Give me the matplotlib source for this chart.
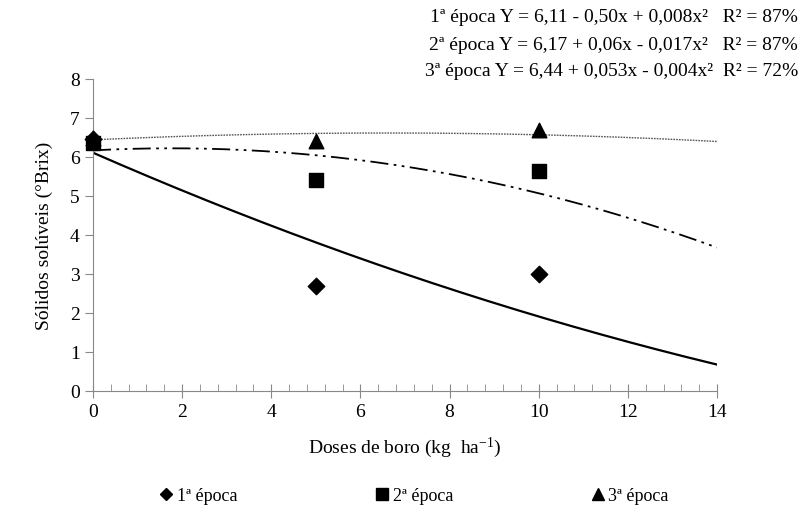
import numpy as np
import matplotlib.pyplot as plt
from matplotlib.ticker import MultipleLocator
from matplotlib.lines import Line2D

plt.rcParams['font.family'] = ['Liberation Serif', 'DejaVu Serif']
plt.rcParams['mathtext.fontset'] = 'custom'
plt.rcParams['mathtext.rm'] = 'Liberation Serif'
plt.rcParams['mathtext.it'] = 'Liberation Serif:italic'
plt.rcParams['mathtext.default'] = 'rm'

doses = [0, 5, 10]
epoca1 = [6.45, 2.7, 3.0]
epoca2 = [6.35, 5.4, 5.65]
epoca3 = [6.5, 6.4, 6.7]

# regression coefficients (a, b, c) for Y = a + b*x + c*x^2
coef1 = [6.11, -0.50, 0.008]
coef2 = [6.17, 0.06, -0.017]
coef3 = [6.44, 0.053, -0.004]

equations = [
    '1ª época Y = 6,11 - 0,50x + 0,008x²   R² = 87%',
    '2ª época Y = 6,17 + 0,06x - 0,017x²   R² = 87%',
    '3ª época Y = 6,44 + 0,053x - 0,004x²  R² = 72%',
]

fig = plt.figure(figsize=(8.02, 5.10), dpi=100)
ax = fig.add_axes([93 / 802, 118 / 510, 624 / 802, 312 / 510])

xs = np.linspace(0, 14, 200)
for coef, style, lw, col in [(coef1, '-', 1.6, 'black'),
                             (coef2, (0, (10, 3, 1.5, 3, 1.5, 3)), 1.3, 'black'),
                             (coef3, (0, (1.2, 0.8)), 1.0, '#555555')]:
    a, b, c = coef
    ax.plot(xs, a + b * xs + c * xs ** 2, linestyle=style, lw=lw, color=col)

ax.scatter(doses, epoca1, marker='D', s=70, color='black', zorder=3, clip_on=False)
ax.scatter(doses, epoca2, marker='s', s=110, color='black', zorder=3, clip_on=False)
ax.scatter(doses, epoca3, marker='^', s=110, color='black', zorder=3, clip_on=False)

ax.set_xlim(0, 14)
ax.set_ylim(0, 8)
ax.xaxis.set_major_locator(MultipleLocator(2))
ax.xaxis.set_minor_locator(MultipleLocator(0.4))
ax.yaxis.set_major_locator(MultipleLocator(1))
for s in ['top', 'right']:
    ax.spines[s].set_visible(False)
for s in ['left', 'bottom']:
    ax.spines[s].set_color('#888888')
ax.tick_params(axis='x', which='major', direction='inout', length=10, color='#888888', labelsize=14, pad=4)
ax.tick_params(axis='x', which='minor', direction='in', length=5, color='#888888')
ax.tick_params(axis='y', direction='out', length=6, color='#888888', labelsize=14)

ax.set_xlabel('Doses de boro (kg  ha$^{-1}$)', fontsize=14, labelpad=10)
ax.set_ylabel('Sólidos solúveis (°Brix)', fontsize=14, labelpad=12)

for i, eq in enumerate(equations):
    fig.text(0.995, 1 - (18 + 27 * i) / 510, eq, ha='right', va='center', fontsize=14)

handles = [Line2D([], [], marker='D', color='black', ls='none', markersize=6),
           Line2D([], [], marker='s', color='black', ls='none', markersize=8),
           Line2D([], [], marker='^', color='black', ls='none', markersize=8)]
fig.legend(handles, ['1ª época', '2ª época', '3ª época'], loc='center',
           bbox_to_anchor=(413 / 802, 1 - 497 / 510), ncol=3, frameon=False,
           fontsize=13, handletextpad=0.1, columnspacing=7.5, handlelength=1)

fig.savefig('out.png', dpi=100)
